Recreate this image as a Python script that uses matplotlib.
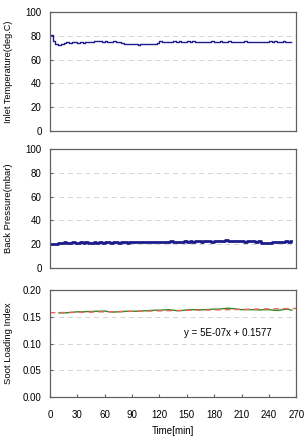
import numpy as np
import matplotlib
matplotlib.use("Agg")
import matplotlib.pyplot as plt

plt.rcParams['font.family'] = ['Liberation Sans', 'DejaVu Sans']
plt.rcParams['font.size'] = 7

# inlet temperature, sampled every 3 min
temp_vals = [80.5, 75.5, 73, 72.5, 73.5, 74, 74.5, 74, 74.5, 74.5, 74, 74.5, 74, 74.5,
             74.5, 75, 76, 75.5, 76, 75, 76, 74.5, 74.5, 75.5, 75, 74.5, 74, 73.5,
             73.5, 73, 73.5, 73, 72.5, 73, 73.5, 73, 73, 73.5, 73, 74, 75.5, 74.5,
             75, 75, 74.5, 75.5, 75, 75.5, 75, 75, 75.5, 75, 75.5, 75, 74.5, 75,
             75, 74.5, 75, 75.5, 74.5, 75, 75.5, 74.5, 75, 75.5, 74.5, 75, 75,
             74.5, 75, 75.5, 74.5, 75, 74.5, 74.5, 75, 74.5, 74.5, 75, 75.5, 75,
             75.5, 74.5, 75, 75.5, 74.5, 75, 75]
# back pressure, sampled every 3 min
press_vals = [20, 20.5, 20.5, 21, 21, 21.5, 21, 21, 21.5, 21, 21, 21.5, 21, 21.5,
              21, 21, 21.5, 21, 21.5, 21, 21.5, 21.5, 21, 21.5, 21.5, 21, 21.5, 21.5,
              21, 21.5, 21.5, 22, 21.5, 21.5, 22, 21.5, 22, 21.5, 21.5, 22, 22, 21.5,
              22, 22, 22.5, 21.5, 22, 22, 22, 22.5, 22, 22.5, 22, 22.5, 22.5, 22,
              22.5, 22.5, 22.5, 22, 22.5, 22.5, 23, 22.5, 23.5, 22.5, 22.5, 23, 22.5,
              22.5, 22.5, 22, 22.5, 22.5, 22.5, 22, 22.5, 21, 21, 21, 21, 21.5,
              21.5, 22, 22, 22, 22.5, 22, 22.5]
sample_step = 3  # min

# soot loading index, every 5 min from 10 min
soot_t = [10, 15, 20, 25, 30, 35, 40, 45, 50, 55, 60, 65, 70, 75, 80, 85, 90, 95,
          100, 105, 110, 115, 120, 125, 130, 135, 140, 145, 150, 155, 160, 165, 170,
          175, 180, 185, 190, 195, 200, 205, 210, 215, 220, 225, 230, 235, 240, 245,
          250, 255, 260, 265]
soot_vals = [.1575, .1575, .158, .1585, .1595, .1595, .16, .16, .1605, .1605, .161,
             .1595, .159, .1595, .16, .1605, .1605, .1605, .161, .1615, .162, .1625,
             .1625, .163, .1635, .1625, .1615, .162, .163, .1635, .1635, .1635, .1635,
             .164, .1645, .1645, .1655, .166, .1655, .1645, .1635, .1635, .1635, .1635,
             .163, .1635, .1635, .1625, .162, .1635, .1645, .1625]
# linear trend (x in seconds): y = 5E-07x + 0.1577
trend_t = [0, 270]
trend_y = [0.1577, 0.1658]

xticks = list(range(0, 271, 30))

navy = '#1c1c8a'
grid_kw = dict(color='#d4d4d4', linestyle=(0, (5, 4)), linewidth=0.7)

fig = plt.figure(figsize=(3.04, 4.37), dpi=100)
ax1 = fig.add_axes([0.164, 0.700, 0.811, 0.2725])
ax2 = fig.add_axes([0.164, 0.387, 0.811, 0.272])
ax3 = fig.add_axes([0.164, 0.0915, 0.811, 0.2445])

t_temp = sample_step * np.arange(len(temp_vals))
t_press = sample_step * np.arange(len(press_vals))

ax1.plot(t_temp, temp_vals, color=navy, lw=1.0, drawstyle='steps-post')
ax2.plot(t_press, press_vals, color=navy, lw=2.0, drawstyle='steps-post')
ax3.plot(soot_t, soot_vals, color='#2e8b22', lw=1.0)
ax3.plot(trend_t, trend_y, color='#f06060', lw=1.0, linestyle=(0, (4, 3)))
ax3.text(147, 0.12, 'y = 5E-07x + 0.1577', fontsize=7, va='center', ha='left')

for ax in (ax1, ax2, ax3):
    ax.set_xlim(0, 270)
    ax.yaxis.grid(True, **grid_kw)
    ax.set_axisbelow(True)
    for s in ax.spines.values():
        s.set_color('#606060')
        s.set_linewidth(0.9)
    ax.tick_params(axis='y', direction='in', length=2, pad=6, colors='#606060',
                   labelcolor='black', labelsize=7)
    ax.yaxis.set_label_coords(-0.15, 0.5)

for ax in (ax1, ax2):
    ax.set_ylim(0, 100)
    ax.set_yticks(range(0, 101, 20))
    ax.set_xticks([])

ax1.set_ylabel('Inlet Temperature(deg.C)', fontsize=6.6)
ax2.set_ylabel('Back Pressure(mbar)', fontsize=6.8)

ax3.set_ylim(0, 0.2)
ax3.set_yticks([0, 0.05, 0.10, 0.15, 0.20])
ax3.set_yticklabels(['0.00', '0.05', '0.10', '0.15', '0.20'])
ax3.set_xticks(xticks)
ax3.tick_params(axis='x', direction='in', length=2, pad=9, colors='#606060',
                labelcolor='black', labelsize=7)
ax3.set_ylabel('Soot Loading Index', fontsize=6.8)
ax3.set_xlabel('Time[min]', labelpad=5)

fig.savefig('out.png', dpi=100)
